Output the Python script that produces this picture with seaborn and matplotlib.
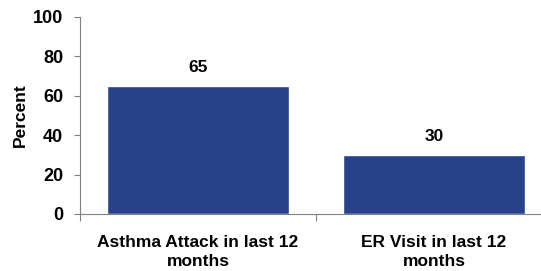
import pandas as pd
import seaborn as sns
import matplotlib.pyplot as plt
from matplotlib.ticker import FixedLocator

categories = ["Asthma Attack in last 12\nmonths", "ER Visit in last 12\nmonths"]
percent = [65, 30]
bar_labels = ["65", "30"]

df = pd.DataFrame({"category": categories, "percent": percent})

sns.set_style("white")
plt.rcParams["font.family"] = ["Liberation Sans", "DejaVu Sans"]
plt.rcParams["font.weight"] = "bold"
plt.rcParams["text.color"] = "black"
plt.rcParams["axes.labelcolor"] = "black"
plt.rcParams["xtick.labelcolor"] = "black"
plt.rcParams["ytick.labelcolor"] = "black"

fig = plt.figure(figsize=(5.41, 2.71), dpi=100)
ax = fig.add_axes([80 / 541, 57 / 271, 472 / 541, 197 / 271])

sns.barplot(data=df, x="category", y="percent", color="#27428A", width=0.77,
            saturation=1, ax=ax)

for i, (v, lab) in enumerate(zip(percent, bar_labels)):
    ax.annotate(lab, (i, v), xytext=(0, 8), textcoords="offset points",
                ha="center", va="bottom", fontsize=12.5, fontweight="bold")

ax.set_xlim(-0.5, 1.5)
ax.set_ylim(0, 100)
ax.set_yticks([0, 20, 40, 60, 80, 100])
ax.tick_params(axis="y", labelsize=13, length=4, width=0.8, color="#808080",
               direction="out", pad=8, left=True)
ax.tick_params(axis="x", which="major", labelsize=12.5, length=0, pad=15)
ax.xaxis.set_minor_locator(FixedLocator([-0.5, 0.5, 1.5]))
ax.tick_params(axis="x", which="minor", length=5, width=0.8, color="#808080",
               direction="out", bottom=True)
for lbl in ax.get_xticklabels():
    lbl.set_fontweight("bold")
    lbl.set_linespacing(1.35)
for lbl in ax.get_yticklabels():
    lbl.set_fontweight("bold")

ax.set_xlabel("")
ax.set_ylabel("Percent", fontsize=12.5, fontweight="bold", labelpad=4)

for s in ["top", "right"]:
    ax.spines[s].set_visible(False)
for s in ["left", "bottom"]:
    ax.spines[s].set_color("#808080")
    ax.spines[s].set_linewidth(0.8)

fig.savefig("out.png", dpi=100)
